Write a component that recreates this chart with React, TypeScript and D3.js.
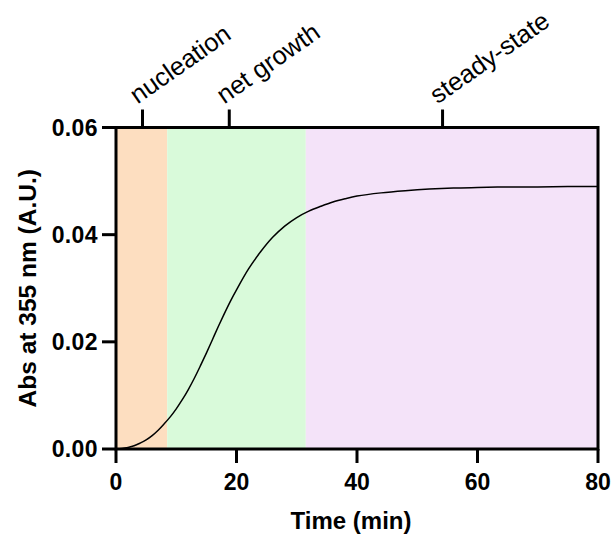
import React from "react";
import * as d3 from "d3";

const timeMin = [0, 1, 2, 3, 4, 5, 6, 7, 8, 9, 10, 11, 12, 13, 14, 15, 16, 17, 18, 19, 20, 22, 24, 26, 28, 30, 32, 34, 36, 38, 40, 44, 48, 52, 56, 60, 65, 70, 75, 80];
const absValues = [0.0, 0.0001, 0.0003, 0.0006, 0.0011, 0.0017, 0.0025, 0.0035, 0.0047, 0.006, 0.0075, 0.0092, 0.0111, 0.0132, 0.0155, 0.0179, 0.0204, 0.0229, 0.0253, 0.0276, 0.0297, 0.0336, 0.0368, 0.0395, 0.0416, 0.0432, 0.0444, 0.0453, 0.0461, 0.0467, 0.0472, 0.0478, 0.0482, 0.0485, 0.0487, 0.0488, 0.0489, 0.0489, 0.049, 0.049];

const phaseNames = ["nucleation", "net growth", "steady-state"];
const phaseStart = [0, 8.5, 31.5];
const phaseEnd = [8.5, 31.5, 80];
const phaseColors = ["#FDDEC0", "#D9FADA", "#F4E3F9"];
const phaseTickPos = [4.4, 18.8, 54.2];

const xTicks = [0, 20, 40, 60, 80];
const yTicks = [0, 0.02, 0.04, 0.06];

const W = 612;
const H = 538;
const left = 116;
const right = 598;
const top = 127.5;
const bottom = 449;

export default function App() {
  const x = d3.scaleLinear().domain([0, 80]).range([left, right]);
  const y = d3.scaleLinear().domain([0, 0.06]).range([bottom, top]);
  const pts: [number, number][] = timeMin.map((t, i) => [t, absValues[i]]);
  const line = d3
    .line<[number, number]>()
    .x((d) => x(d[0]))
    .y((d) => y(d[1]))
    .curve(d3.curveCatmullRom.alpha(0.5));

  const font = "'Liberation Sans', Arial, Helvetica, sans-serif";

  return (
    <svg
      width={W}
      height={H}
      style={{ position: "absolute", left: 0, top: 0 }}
      fontFamily={font}
    >
      <rect x={0} y={0} width={W} height={H} fill="#fff" />
      {phaseNames.map((n, i) => (
        <rect
          key={n}
          x={x(phaseStart[i])}
          y={top}
          width={x(phaseEnd[i]) - x(phaseStart[i])}
          height={bottom - top}
          fill={phaseColors[i]}
        />
      ))}
      <path d={line(pts) || ""} fill="none" stroke="#000" strokeWidth={1.5} />
      <rect
        x={left}
        y={top}
        width={right - left}
        height={bottom - top}
        fill="none"
        stroke="#000"
        strokeWidth={3}
      />
      {yTicks.map((v) => (
        <g key={"y" + v}>
          <line x1={left - 14} x2={left} y1={y(v)} y2={y(v)} stroke="#000" strokeWidth={3} />
          <text
            x={98}
            y={y(v)}
            dy="0.36em"
            textAnchor="end"
            fontSize={23}
            fontWeight="bold"
            letterSpacing={0.4}
          >
            {d3.format(".2f")(v)}
          </text>
        </g>
      ))}
      {xTicks.map((v) => (
        <g key={"x" + v}>
          <line x1={x(v)} x2={x(v)} y1={bottom} y2={bottom + 14} stroke="#000" strokeWidth={3} />
          <text x={x(v)} y={490} textAnchor="middle" fontSize={23} fontWeight="bold">
            {v}
          </text>
        </g>
      ))}
      {phaseNames.map((n, i) => {
        const px = x(phaseTickPos[i]);
        return (
          <g key={"t" + n}>
            <line x1={px} x2={px} y1={top} y2={top - 18} stroke="#000" strokeWidth={3} />
            <text
              transform={`translate(${px - 5},${top - 23}) rotate(-35)`}
              fontSize={25.5}
            >
              {n}
            </text>
          </g>
        );
      })}
      <text x={351} y={529} textAnchor="middle" fontSize={24} fontWeight="bold">
        Time (min)
      </text>
      <text
        transform={`translate(36,${(top + bottom) / 2}) rotate(-90)`}
        textAnchor="middle"
        fontSize={24.5}
        fontWeight="bold"
      >
        Abs at 355 nm (A.U.)
      </text>
    </svg>
  );
}
